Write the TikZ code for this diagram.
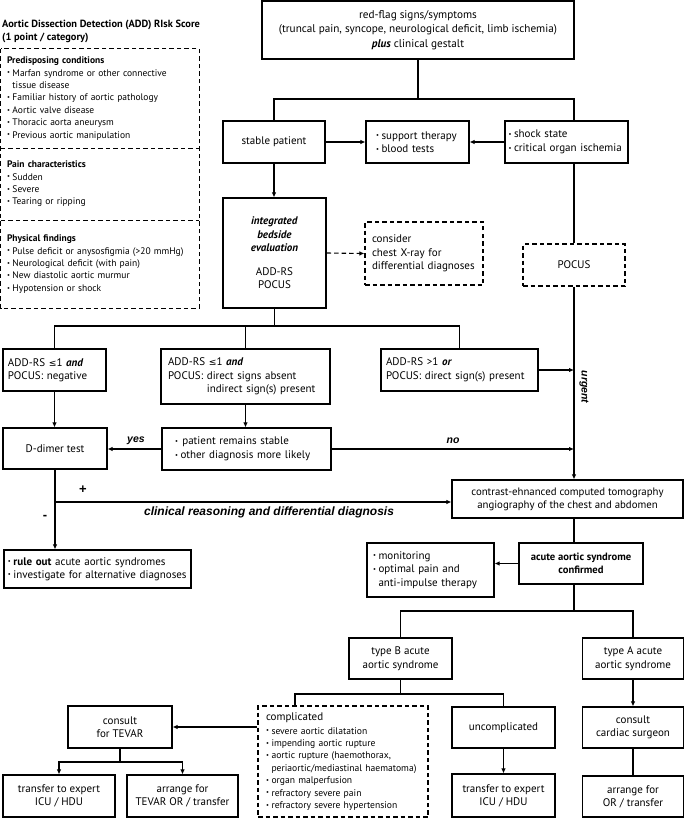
\documentclass[tikz,border=0pt]{standalone}
\usepackage{fontspec}
\setmainfont{PT Sans}
\newfontfamily\arialf{Liberation Sans}
\newfontfamily\symf{DejaVu Sans}
\usetikzlibrary{arrows.meta}
\newcommand{\bu}{\makebox[5.5pt][l]{\raisebox{0.25ex}{\fontsize{6.5}{6.5}\selectfont •}}}
\newcommand{\lte}{{\symf\fontsize{9.2}{9.2}\selectfont ≤}}
\begin{document}
\begin{tikzpicture}[x=1pt,y=-1pt,
  bx/.style={draw, line width=1.1pt, inner sep=0pt, align=center, font=\fontsize{11}{13.5}\selectfont},
  dbx/.style={bx, dash pattern=on 4.5pt off 3pt},
  lt/.style={align=left},
  sm/.style={inner sep=0pt, font=\fontsize{9.5}{12.4}\selectfont},
  ln/.style={line width=1.1pt},
  arr/.style={ln, -{Latex[length=5pt,width=4.5pt]}},
  lab/.style={inner sep=0pt, font=\arialf\bfseries\itshape\fontsize{10.5}{12}\selectfont},
  sig/.style={inner sep=0pt, font=\arialf\bfseries\fontsize{13}{13}\selectfont}
]
\useasboundingbox (0,0) rectangle (685,818);

% ADD risk score panel
\node[anchor=west, align=left, inner sep=0pt, font=\bfseries\fontsize{10.4}{13}\selectfont] (ttl) at (2,31)
  {Aortic Dissection Detection (ADD) RIsk Score\\(1 point / category)};
\node[sm, minimum width=198pt, minimum height=99pt, inner xsep=6pt, text width=186pt, align=left] (s1) at (100,98.5)
  {\textbf{Predisposing conditions}\\\bu Marfan syndrome or other connective\\\phantom{\bu}tissue disease\\\bu Familiar history of aortic pathology\\\bu Aortic valve disease\\\bu Thoracic aorta aneurysm\\\bu Previous aortic manipulation};
\node[sm, minimum width=198pt, minimum height=72pt, inner xsep=6pt, text width=186pt, align=left] (s2) at (100,184)
  {\textbf{Pain characteristics}\\\bu Sudden\\\bu Severe\\\bu Tearing or ripping};
\node[sm, minimum width=198pt, minimum height=88pt, inner xsep=6pt, text width=186pt, align=left] (s3) at (100,264)
  {\textbf{Physical findings}\\\bu Pulse deficit or anysosfigmia (>20 mmHg)\\\bu Neurological deficit (with pain)\\\bu New diastolic aortic murmur\\\bu Hypotension or shock};
\draw[ln, dash pattern=on 4.5pt off 3pt] (s1.north west) rectangle (s3.south east);
\draw[ln, dash pattern=on 4.5pt off 3pt] (s1.south west) -- (s1.south east);
\draw[ln, dash pattern=on 4.5pt off 3pt] (s2.south west) -- (s2.south east);

% main flow boxes
\node[bx, minimum width=312pt, minimum height=58pt, font=\fontsize{11.2}{14.5}\selectfont] (top) at (418,30)
  {red-flag signs/symptoms\\(truncal pain, syncope, neurological deficit, limb ischemia)\\\textbf{\textit{plus}} clinical gestalt};
\node[bx, minimum width=102pt, minimum height=42pt] (stable) at (274,142) {stable patient};
\node[bx, lt, minimum width=103pt, minimum height=42pt, inner xsep=10pt, text width=83pt] (sup) at (417.5,142)
  {\bu support therapy\\\bu blood tests};
\node[bx, lt, minimum width=123pt, minimum height=42pt, inner xsep=3.5pt, text width=116pt] (shock) at (566.5,142)
  {\bu shock state\\\bu critical organ ischemia};
\node[bx, minimum width=103pt, minimum height=110pt] (ibe) at (274.5,253)
  {\textbf{\textit{integrated}}\\\textbf{\textit{bedside}}\\\textbf{\textit{evaluation}}\\[10pt]ADD-RS\\POCUS};
\node[dbx, lt, minimum width=118pt, minimum height=63pt, inner xsep=7pt, text width=104pt] (cxr) at (424,253.5)
  {consider\\chest X-ray for\\\mbox{differential diagnoses}};
\node[dbx, minimum width=102pt, minimum height=42pt] (pocus) at (574,265) {POCUS};

\node[bx, lt, minimum width=103pt, minimum height=42pt, inner xsep=5pt, text width=93pt] (b1) at (54.5,370)
  {ADD-RS \lte1 \textbf{\textit{and}}\\POCUS: negative};
\node[bx, lt, minimum width=169pt, minimum height=55pt, inner xsep=7pt, text width=155pt] (b2) at (245.5,376.5)
  {ADD-RS \lte1 \textbf{\textit{and}}\\POCUS: direct signs absent\\\phantom{POCUS: }indirect sign(s) present};
\node[bx, lt, minimum width=157pt, minimum height=42pt, inner xsep=5pt, text width=147pt] (b3) at (459.5,370)
  {ADD-RS >1 \textbf{\textit{or}}\\POCUS: direct sign(s) present};

\node[bx, minimum width=104pt, minimum height=41pt] (dd) at (55,448.5) {D-dimer test};
\node[bx, lt, minimum width=169pt, minimum height=42pt, inner xsep=13pt, text width=143pt] (pat) at (246.5,449)
  {\bu\,patient remains stable\\\bu other diagnosis more likely};

\node[bx, minimum width=231pt, minimum height=38pt, font=\fontsize{10.8}{12.8}\selectfont] (ct) at (567.5,499)
  {contrast-ehnanced computed tomography\\angiography of the chest and abdomen};
\node[bx, minimum width=124pt, minimum height=41pt, font=\bfseries\fontsize{10.6}{13}\selectfont] (aas) at (581,563.5)
  {acute aortic syndrome\\confirmed};
\node[bx, lt, minimum width=127pt, minimum height=54pt, inner xsep=6pt, text width=115pt] (mon) at (430.5,570)
  {\bu monitoring\\\bu optimal pain and\\\phantom{\bu}anti-impulse therapy};
\node[bx, lt, minimum width=187pt, minimum height=38pt, inner xsep=4pt, text width=179pt, font=\fontsize{11}{13}\selectfont] (ro) at (97.5,569)
  {\bu\textbf{rule out} acute aortic syndromes\\\mbox{\bu investigate for alternative diagnoses}};

\node[bx, minimum width=103pt, minimum height=41pt] (tb) at (400.5,658.5) {type B acute\\aortic syndrome};
\node[bx, minimum width=101pt, minimum height=41pt] (ta) at (633,658.5) {type A acute\\aortic syndrome};
\node[dbx, lt, minimum width=170pt, minimum height=111pt, inner xsep=8pt, text width=154pt, font=\fontsize{9.6}{12.4}\selectfont] (comp) at (343,761.5)
  {{\fontsize{11}{12.4}\selectfont complicated}\\[1.5pt]\bu severe aortic dilatation\\\bu impending aortic rupture\\\bu aortic rupture (haemothorax,\\\phantom{\bu}\mbox{periaortic/mediastinal haematoma)}\\\bu organ malperfusion\\\bu refractory severe pain\\\bu refractory severe hypertension};
\node[bx, minimum width=104pt, minimum height=42pt, font=\fontsize{11}{13}\selectfont] (consult) at (120,727) {consult\\for TEVAR};
\node[bx, minimum width=103pt, minimum height=41pt] (unc) at (503.5,727.5) {uncomplicated};
\node[bx, minimum width=101pt, minimum height=41pt] (cardiac) at (633,727.5) {consult\\cardiac surgeon};
\node[bx, minimum width=112pt, minimum height=42pt, font=\fontsize{11}{13}\selectfont] (tr1) at (59,796) {transfer to expert\\ICU / HDU};
\node[bx, minimum width=111pt, minimum height=42pt, font=\fontsize{11}{13}\selectfont] (ar1) at (182.5,796) {arrange for\\TEVAR OR / transfer};
\node[bx, minimum width=103pt, minimum height=43pt, font=\fontsize{11}{13}\selectfont] (tr2) at (503.5,795.5) {transfer to expert\\ICU / HDU};
\node[bx, minimum width=101pt, minimum height=41pt, font=\fontsize{11}{13}\selectfont] (arA) at (633,796.5) {arrange for\\OR / transfer};

% connectors
\coordinate (j1) at (418,99);
\coordinate (rx) at (574,99);
\draw[ln] (top.south) -- (j1);
\draw[ln] (stable.north) |- (rx) -- (rx |- shock.north);
\draw[arr] (stable.east) -- (sup.west);
\draw[arr] (shock.west) -- (sup.east);
\draw[arr] (stable.south) -- (stable.south |- ibe.north);
\draw[ln] (rx |- shock.south) -- (pocus.north);
\draw[arr] (pocus.south) -- (pocus.south |- ct.north);
\draw[arr, dash pattern=on 4.5pt off 3pt] (ibe.east) -- (cxr.west);

\coordinate (j3) at (274.5,326);
\draw[ln] (ibe.south) -- (j3);
\draw[ln] (b1.north) |- (j3) -| (b3.north);
\draw[ln] (b2.north |- j3) -- (b2.north);
\draw[arr] (b1.south) -- (b1.south |- dd.north);
\draw[arr] (b2.south) -- (b2.south |- pat.north);
\draw[arr] (b3.east) -- (b3.east -| pocus.south);
\draw[arr] (pat.west) -- (pat.west -| dd.east);
\draw[arr] (pat.east) -- (pat.east -| pocus.south);
\node[lab] (yes) at (136,441) {yes};
\node[lab] (no) at (453,441) {no};
\node[lab, rotate=-90] (urg) at (584,387) {urgent};

\coordinate (j4) at (55,502);
\draw[arr] (dd.south) -- (dd.south |- ro.north);
\draw[arr] (j4) -- (j4 -| ct.west);
\node[sig] (plus) at (83,490) {+};
\node[sig] (minus) at (45,517) {-};
\node[lab, font=\arialf\bfseries\itshape\fontsize{12}{14}\selectfont] (crdd) at (269,512) {clinical reasoning and differential diagnosis};

\draw[ln] (pocus.south |- ct.south) -- (pocus.south |- aas.north);
\draw[arr] (aas.west) -- (aas.west -| mon.east);
\coordinate (j5) at (574,611);
\draw[ln] (pocus.south |- aas.south) -- (j5);
\draw[ln] (tb.north) |- (j5) -| (ta.north);

\coordinate (j6) at (295,694);
\draw[ln] (tb.south) -- (tb.south |- j6);
\draw[ln] (j6 |- comp.north) -- (j6) -| (unc.north);
\draw[arr] (consult.east -| comp.west) -- (consult.east);
\coordinate (j7) at (120,762);
\draw[ln] (consult.south) -- (j7);
\draw[arr] (j7) -| (tr1.north);
\draw[arr] (j7) -| (ar1.north);
\draw[arr] (unc.south) -- (tr2.north);
\draw[arr] (ta.south) -- (cardiac.north);
\draw[ln] (cardiac.south) -- (arA.north);
\end{tikzpicture}
\end{document}
